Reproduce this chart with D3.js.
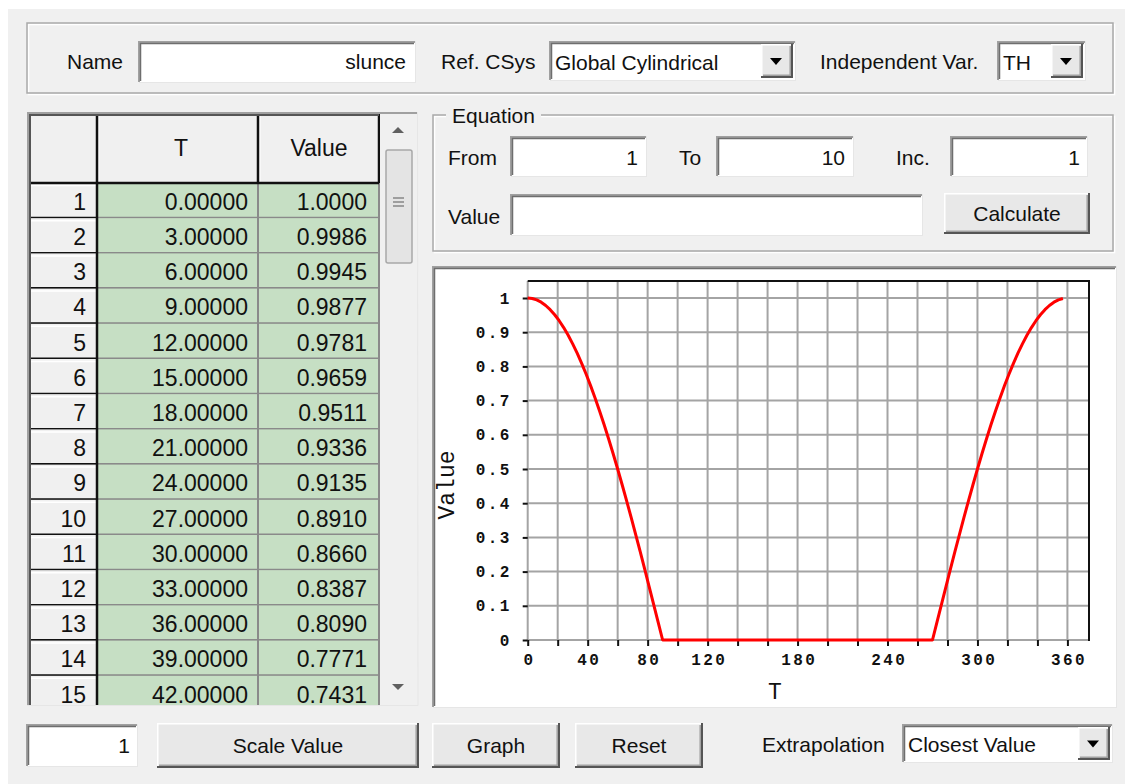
<!DOCTYPE html>
<html><head><meta charset="utf-8">
<script src="https://cdn.jsdelivr.net/npm/d3@7"></script>
<style>
html,body{margin:0;padding:0;background:#fff;overflow:hidden;}
svg{display:block;}
text{font-family:"Liberation Sans",Arial,sans-serif;fill:#111;}
</style></head><body>
<svg id="c" width="1125" height="784"></svg>
<script>
// ---- data ----
const tValues = [0,3,6,9,12,15,18,21,24,27,30,33,36,39,42,45,48,51,54,57,60,63,66,69,72,75,78,81,84,87,
  90,93,96,99,102,105,108,111,114,117,120,123,126,129,132,135,138,141,144,147,150,153,156,159,162,165,168,171,174,177,
  180,183,186,189,192,195,198,201,204,207,210,213,216,219,222,225,228,231,234,237,240,243,246,249,252,255,258,261,264,267,
  270,273,276,279,282,285,288,291,294,297,300,303,306,309,312,315,318,321,324,327,330,333,336,339,342,345,348,351,354,357];
const values = [1.0000,0.9986,0.9945,0.9877,0.9781,0.9659,0.9511,0.9336,0.9135,0.8910,0.8660,0.8387,0.8090,0.7771,0.7431,
  0.7071,0.6691,0.6293,0.5878,0.5446,0.5000,0.4540,0.4067,0.3584,0.3090,0.2588,0.2079,0.1564,0.1045,0.0523,
  0.0000,0,0,0,0,0,0,0,0,0,0,0,0,0,0,0,0,0,0,0,0,0,0,0,0,0,0,0,0,0,
  0,0,0,0,0,0,0,0,0,0,0,0,0,0,0,0,0,0,0,0,0,0,0,0,0,0,0,0,0,0,
  0.0000,0.0523,0.1045,0.1564,0.2079,0.2588,0.3090,0.3584,0.4067,0.4540,0.5000,0.5446,0.5878,0.6293,0.6691,
  0.7071,0.7431,0.7771,0.8090,0.8387,0.8660,0.8910,0.9135,0.9336,0.9511,0.9659,0.9781,0.9877,0.9945,0.9986];
const tableTLabels = ["0.00000","3.00000","6.00000","9.00000","12.00000","15.00000","18.00000","21.00000","24.00000","27.00000","30.00000","33.00000","36.00000","39.00000","42.00000"];
const tableVLabels = ["1.0000","0.9986","0.9945","0.9877","0.9781","0.9659","0.9511","0.9336","0.9135","0.8910","0.8660","0.8387","0.8090","0.7771","0.7431"];
const yTicks = [0,0.1,0.2,0.3,0.4,0.5,0.6,0.7,0.8,0.9,1];
const yTickLabels = ["0","0.1","0.2","0.3","0.4","0.5","0.6","0.7","0.8","0.9","1"];
const xTicks = [0,20,40,60,80,100,120,140,160,180,200,220,240,260,280,300,320,340,360];
const xTickLabels = [0,40,80,120,180,240,300,360];
const xDomain = [0,374.4];
const yDomain = [0,1.05];

const svg = d3.select('#c');
const FS = 21;

function path(pts, color, w, parent){
  (parent||svg).append('path').attr('d', d3.line()(pts)).attr('fill','none')
    .attr('stroke',color).attr('stroke-width',w);
}
function rect(x,y,w,h,fill,parent){
  return (parent||svg).append('rect').attr('x',x).attr('y',y).attr('width',w).attr('height',h).attr('fill',fill);
}
function label(txt,x,cy,anchor,size,parent,family){
  return (parent||svg).append('text').attr('x',x).attr('y',cy+ (size||FS)*0.36)
    .attr('text-anchor',anchor||'start').attr('font-size',size||FS)
    .style('font-family',family||null).text(txt);
}
function sunken(x,y,w,h,fill){
  rect(x,y,w,h,fill||'#fff');
  path([[x+w,y+h-0.5],[x+0.5,y+h-0.5]],'#e6e6e6',1);
  path([[x+w-0.5,y],[x+w-0.5,y+h]],'#e6e6e6',1);
  path([[x+1,y+h-1],[x+1,y+1],[x+w-1,y+1]],'#a0a0a0',2);
  path([[x+2.5,y+h-2],[x+2.5,y+2.5],[x+w-2,y+2.5]],'#6e6e6e',1.5);
}
function raised(x,y,w,h,fill){
  rect(x,y,w,h,fill||'#e8e8e8');
  path([[x+0.75,y+h],[x+0.75,y+0.75],[x+w,y+0.75]],'#fff',1.5);
  path([[x,y+h-1],[x+w-1,y+h-1],[x+w-1,y]],'#555',2);
  path([[x+2,y+h-2.8],[x+w-2.8,y+h-2.8],[x+w-2.8,y+2]],'#a0a0a0',1.5);
}
function etched(x,y,w,h){
  svg.append('rect').attr('x',x+1.5).attr('y',y+1.5).attr('width',w).attr('height',h)
    .attr('fill','none').attr('stroke','#fff').attr('stroke-width',1.5);
  svg.append('rect').attr('x',x).attr('y',y).attr('width',w).attr('height',h)
    .attr('fill','none').attr('stroke','#a9a9a9').attr('stroke-width',1.5);
}
function combo(x,y,w,h,txt){
  sunken(x,y,w,h);
  label(txt,x+6,y+h/2+1,'start');
  const bw=32, bx=x+w-bw-3;
  raised(bx,y+3,bw,h-6,'#e8e8e8');
  const cx=bx+bw/2-1, cy=y+h/2;
  svg.append('path').attr('d',`M${cx-6},${cy-3}L${cx+6},${cy-3}L${cx},${cy+4}Z`).attr('fill','#000');
}

// background
rect(0,0,1125,784,'#fff');
rect(8,9,1117,775,'#f0f0f0');

// top group
etched(27,23,1086,70);
label('Name',67,61,'start');
sunken(138,41,278,42);
label('slunce',406,61,'end');
label('Ref. CSys',441,61,'start');
combo(549,41,247,40,'Global Cylindrical');
label('Independent Var.',820,61,'start');
combo(997,41,89,40,'TH');

// ---- table ----
const tbl = {x:27,y:112,w:391,h:594,c1:97,c2:258,c3:379,hdrB:183,rowH:35.2};
rect(tbl.x,tbl.y,tbl.w,tbl.h,'#f0f0f0');
const clip = svg.append('defs').append('clipPath').attr('id','tclip');
clip.append('rect').attr('x',tbl.x).attr('y',tbl.y).attr('width',tbl.w).attr('height',tbl.h);
const tg = svg.append('g').attr('clip-path','url(#tclip)');
// header
rect(tbl.x,tbl.y,tbl.c3-tbl.x,tbl.hdrB-tbl.y,'#f0f0f0',tg);
[tbl.x+2,tbl.c1+1,tbl.c2+1].forEach((cx,i)=>{
  const nx=[tbl.c1,tbl.c2,tbl.c3][i];
  path([[cx+0.75,tbl.hdrB],[cx+0.75,tbl.y+2],[nx,tbl.y+2]],'#fff',1.5,tg);
});
label('T',181,148,'middle',23,tg);
label('Value',319,148,'middle',23,tg);
// rows
tableTLabels.forEach((tl,i)=>{
  const top = tbl.hdrB + i*tbl.rowH, bot = top+tbl.rowH;
  rect(tbl.x,top,tbl.c1-tbl.x,tbl.rowH,'#f0f0f0',tg);
  path([[tbl.x+3.5,bot-1],[tbl.x+3.5,top+2.5],[tbl.c1-1,top+2.5]],'#fff',1.5,tg);
  path([[tbl.x+2,bot-0.5],[tbl.c1,bot-0.5]],'#111',2,tg);
  rect(tbl.c1,top,tbl.c3-tbl.c1,tbl.rowH,'#c6dfc4',tg);
  path([[tbl.c1,bot-0.5],[tbl.c3,bot-0.5]],'#8a8a8a',2,tg);
  label(String(i+1),86,top+18.5,'end',23,tg);
  label(tl,248,top+18.5,'end',23,tg);
  label(tableVLabels[i],367,top+18.5,'end',23,tg);
});
path([[tbl.c2,tbl.hdrB],[tbl.c2,tbl.y+tbl.h]],'#8a8a8a',2,tg);
path([[tbl.c3,tbl.hdrB],[tbl.c3,tbl.y+tbl.h]],'#8a8a8a',2,tg);
path([[tbl.c1,tbl.y],[tbl.c1,tbl.y+tbl.h]],'#111',2.5,tg);
path([[tbl.c2,tbl.y],[tbl.c2,tbl.hdrB]],'#111',2.5,tg);
path([[tbl.c3,tbl.y],[tbl.c3,tbl.hdrB]],'#111',2.5,tg);
path([[tbl.x,tbl.hdrB],[tbl.c3,tbl.hdrB]],'#111',2.5,tg);
// scrollbar
rect(tbl.c3+1,tbl.y,tbl.x+tbl.w-tbl.c3-1,tbl.h,'#f0f0f0');
const sbx = 398;
svg.append('path').attr('d',`M${sbx-6},${133}L${sbx+6},${133}L${sbx},${127}Z`).attr('fill','#606060');
svg.append('path').attr('d',`M${sbx-6},${684}L${sbx+6},${684}L${sbx},${690}Z`).attr('fill','#606060');
svg.append('rect').attr('x',386).attr('y',150).attr('width',26).attr('height',113).attr('rx',2)
  .attr('fill','#e4e4e4').attr('stroke','#a8a8a8').attr('stroke-width',1.5);
[198,202,206].forEach(yy=>path([[393,yy],[404,yy]],'#707070',1.2));
// table frame
path([[tbl.x+1,tbl.y+tbl.h],[tbl.x+1,tbl.y+1],[tbl.x+tbl.w,tbl.y+1]],'#a0a0a0',2);
path([[tbl.x+3,tbl.y+tbl.h],[tbl.x+3,tbl.y+3],[tbl.c3,tbl.y+3]],'#555',2);
path([[tbl.x,tbl.y+tbl.h-0.5],[tbl.x+tbl.w,tbl.y+tbl.h-0.5],[tbl.x+tbl.w-0.5,tbl.y]],'#e6e6e6',1);

// ---- equation group ----
etched(433,115,680,136);
rect(446,104,95,22,'#f0f0f0');
label('Equation',452,115,'start');
label('From',448,157,'start');
sunken(510,136,137,41); label('1',638,157,'end');
label('To',679,157,'start');
sunken(716,136,138,41); label('10',845,157,'end');
label('Inc.',896,157,'start');
sunken(950,136,138,41); label('1',1080,157,'end');
label('Value',448,216,'start');
sunken(510,194,413,42);
raised(944,193,146,41);
label('Calculate',1017,213,'middle');

// ---- chart panel ----
sunken(432,266,685,442);
const x = d3.scaleLinear().domain(xDomain).range([527.7,1089]);
const y = d3.scaleLinear().domain(yDomain).range([640,280.9]);
const cg = svg.append('g');
// grid
cg.append('g').selectAll('line').data(xTicks).join('line')
  .attr('x1',d=>x(d)).attr('x2',d=>x(d)).attr('y1',y(yDomain[1])).attr('y2',y(0))
  .attr('stroke','#a4a4a4').attr('stroke-width',2);
cg.append('g').selectAll('line').data(yTicks).join('line')
  .attr('x1',x(0)).attr('x2',x(xDomain[1])).attr('y1',d=>y(d)).attr('y2',d=>y(d))
  .attr('stroke','#a4a4a4').attr('stroke-width',2);
// frame top & right
path([[x(0),y(yDomain[1])],[x(xDomain[1]),y(yDomain[1])],[x(xDomain[1]),y(0)+1]],'#111',2,cg);
// axes
const yAxis = cg.append('g').attr('transform',`translate(${x(0)},0)`)
  .call(d3.axisLeft(y).tickValues(yTicks).tickSize(5).tickPadding(11).tickFormat((d,i)=>yTickLabels[i]));
const xAxis = cg.append('g').attr('transform',`translate(0,${y(0)})`)
  .call(d3.axisBottom(x).tickValues(xTicks).tickSize(6).tickPadding(8).tickFormat(d=>xTickLabels.includes(d)?String(d):''));
[yAxis,xAxis].forEach(a=>{
  a.select('.domain').remove();
  a.selectAll('.tick line').attr('stroke','#111').attr('stroke-width',2);
  a.selectAll('.tick text').style('font-family','"Liberation Mono",monospace').attr('font-weight','bold')
    .attr('font-size',16).attr('letter-spacing',2.4).attr('fill','#222');
});
xAxis.selectAll('.tick text').attr('dx',1.2);
// line
cg.append('path').datum(tValues.map((t,i)=>({t, v:values[i]})))
  .attr('d',d3.line().x(d=>x(d.t)).y(d=>y(d.v)))
  .attr('fill','none').attr('stroke','#ff0000').attr('stroke-width',3).attr('stroke-linejoin','round');
// axis titles
cg.append('text').attr('transform','translate(454,485) rotate(-90)').attr('text-anchor','middle')
  .style('font-family','"Liberation Mono",monospace').attr('font-size',23).attr('fill','#222').text('Value');
cg.append('text').attr('x',775).attr('y',699).attr('text-anchor','middle')
  .style('font-family','"Liberation Mono",monospace').attr('font-size',23).attr('fill','#222').text('T');

// ---- bottom row ----
sunken(26,724,112,43); label('1',130,745,'end');
raised(157,723,262,45); label('Scale Value',288,745,'middle');
raised(432,723,128,45); label('Graph',496,745,'middle');
raised(575,723,128,45); label('Reset',639,745,'middle');
label('Extrapolation',762,744,'start');
combo(902,724,211,39,'Closest Value');
</script>
</body></html>
